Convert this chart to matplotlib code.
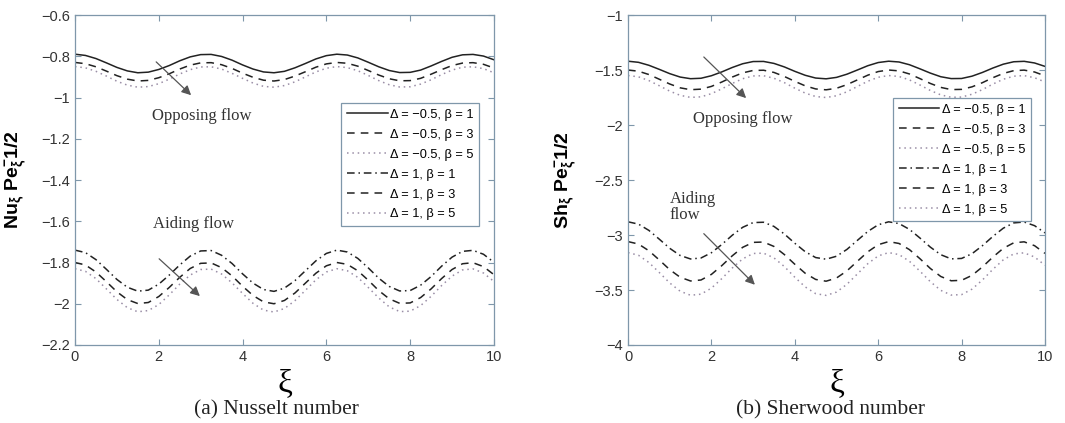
import numpy as np
import matplotlib
matplotlib.use("Agg")
import matplotlib.pyplot as plt

plt.rcParams["font.family"] = ["Liberation Sans", "DejaVu Sans"]
plt.rcParams["mathtext.fontset"] = "custom"
plt.rcParams["mathtext.rm"] = "Liberation Sans"
plt.rcParams["mathtext.it"] = "Liberation Sans:italic"
plt.rcParams["mathtext.bf"] = "Liberation Sans:bold"

# xi grid the values below were read at
xi = np.linspace(0, 10, 41)

# ---- (a) Nusselt number ----
nu_opp_b1 = [-0.790, -0.796, -0.811, -0.832, -0.854, -0.871, -0.880, -0.877, -0.864, -0.845, -0.822,
             -0.803, -0.792, -0.791, -0.801, -0.819, -0.842, -0.862, -0.876, -0.880, -0.873, -0.856,
             -0.835, -0.813, -0.797, -0.790, -0.794, -0.808, -0.829, -0.851, -0.869, -0.879, -0.878,
             -0.867, -0.847, -0.825, -0.805, -0.793, -0.791, -0.799, -0.817]
nu_opp_b3 = [-0.830, -0.836, -0.851, -0.872, -0.894, -0.911, -0.920, -0.917, -0.904, -0.885, -0.862,
             -0.843, -0.832, -0.831, -0.841, -0.859, -0.882, -0.902, -0.916, -0.920, -0.913, -0.896,
             -0.875, -0.853, -0.837, -0.830, -0.834, -0.848, -0.869, -0.891, -0.909, -0.919, -0.918,
             -0.907, -0.887, -0.865, -0.845, -0.833, -0.831, -0.839, -0.857]
nu_opp_b5 = [-0.850, -0.856, -0.873, -0.896, -0.921, -0.940, -0.950, -0.947, -0.933, -0.911, -0.886,
             -0.865, -0.852, -0.851, -0.862, -0.883, -0.907, -0.930, -0.946, -0.950, -0.942, -0.924,
             -0.900, -0.876, -0.858, -0.850, -0.855, -0.870, -0.893, -0.918, -0.938, -0.949, -0.948,
             -0.935, -0.914, -0.889, -0.867, -0.853, -0.851, -0.860, -0.880]
nu_aid_b1 = [-1.740, -1.752, -1.786, -1.833, -1.882, -1.920, -1.939, -1.934, -1.905, -1.861, -1.812,
             -1.769, -1.744, -1.742, -1.765, -1.805, -1.855, -1.900, -1.931, -1.940, -1.924, -1.888,
             -1.840, -1.792, -1.756, -1.740, -1.749, -1.780, -1.826, -1.876, -1.916, -1.938, -1.936,
             -1.910, -1.868, -1.818, -1.774, -1.746, -1.741, -1.760, -1.799]
nu_aid_b3 = [-1.800, -1.812, -1.846, -1.893, -1.942, -1.980, -1.999, -1.994, -1.965, -1.921, -1.872,
             -1.829, -1.804, -1.802, -1.825, -1.865, -1.915, -1.960, -1.991, -2.000, -1.984, -1.948,
             -1.900, -1.852, -1.816, -1.800, -1.809, -1.840, -1.886, -1.936, -1.976, -1.998, -1.996,
             -1.970, -1.928, -1.878, -1.834, -1.806, -1.801, -1.820, -1.859]
nu_aid_b5 = [-1.830, -1.843, -1.878, -1.928, -1.979, -2.019, -2.039, -2.033, -2.004, -1.957, -1.905,
             -1.861, -1.834, -1.832, -1.856, -1.899, -1.950, -1.998, -2.031, -2.040, -2.023, -1.985,
             -1.935, -1.884, -1.846, -1.830, -1.840, -1.872, -1.921, -1.972, -2.015, -2.038, -2.036,
             -2.009, -1.964, -1.912, -1.866, -1.836, -1.831, -1.851, -1.892]

# ---- (b) Sherwood number ----
sh_opp_b1 = [-1.420, -1.430, -1.457, -1.494, -1.533, -1.564, -1.579, -1.575, -1.552, -1.517, -1.477,
             -1.443, -1.423, -1.422, -1.440, -1.472, -1.512, -1.548, -1.573, -1.580, -1.567, -1.538,
             -1.500, -1.461, -1.432, -1.420, -1.427, -1.452, -1.489, -1.528, -1.561, -1.578, -1.577,
             -1.556, -1.522, -1.482, -1.447, -1.425, -1.421, -1.436, -1.467]
sh_opp_b3 = [-1.500, -1.511, -1.541, -1.584, -1.627, -1.662, -1.679, -1.674, -1.649, -1.609, -1.564,
             -1.526, -1.504, -1.502, -1.522, -1.559, -1.603, -1.644, -1.672, -1.680, -1.666, -1.633,
             -1.590, -1.547, -1.514, -1.500, -1.508, -1.536, -1.578, -1.622, -1.658, -1.678, -1.676,
             -1.653, -1.615, -1.570, -1.531, -1.506, -1.501, -1.518, -1.553]
sh_opp_b5 = [-1.550, -1.562, -1.596, -1.643, -1.692, -1.730, -1.749, -1.744, -1.715, -1.671, -1.622,
             -1.579, -1.554, -1.552, -1.575, -1.615, -1.665, -1.710, -1.741, -1.750, -1.734, -1.698,
             -1.650, -1.602, -1.566, -1.550, -1.559, -1.590, -1.636, -1.686, -1.726, -1.748, -1.746,
             -1.720, -1.678, -1.628, -1.584, -1.556, -1.551, -1.570, -1.609]
sh_aid_b1 = [-2.880, -2.901, -2.958, -3.038, -3.121, -3.186, -3.218, -3.209, -3.161, -3.086, -3.002,
             -2.930, -2.887, -2.884, -2.922, -2.991, -3.075, -3.152, -3.205, -3.220, -3.193, -3.131,
             -3.049, -2.968, -2.907, -2.880, -2.896, -2.949, -3.027, -3.110, -3.179, -3.217, -3.213,
             -3.170, -3.097, -3.013, -2.938, -2.890, -2.882, -2.915, -2.981]
sh_aid_b3 = [-3.060, -3.082, -3.143, -3.227, -3.315, -3.384, -3.418, -3.409, -3.358, -3.278, -3.189,
             -3.112, -3.067, -3.064, -3.104, -3.178, -3.266, -3.348, -3.404, -3.420, -3.391, -3.326,
             -3.239, -3.153, -3.088, -3.060, -3.077, -3.133, -3.215, -3.304, -3.377, -3.416, -3.412,
             -3.367, -3.290, -3.201, -3.121, -3.071, -3.062, -3.097, -3.167]
sh_aid_b5 = [-3.160, -3.184, -3.250, -3.341, -3.436, -3.511, -3.548, -3.538, -3.483, -3.396, -3.300,
             -3.217, -3.168, -3.165, -3.208, -3.287, -3.384, -3.472, -3.533, -3.549, -3.519, -3.448,
             -3.354, -3.261, -3.190, -3.160, -3.178, -3.239, -3.328, -3.424, -3.503, -3.546, -3.542,
             -3.492, -3.409, -3.312, -3.226, -3.172, -3.162, -3.200, -3.275]

labels = ["Δ = −0.5, β = 1", "Δ = −0.5, β = 3", "Δ = −0.5, β = 5",
          "Δ = 1, β = 1", "Δ = 1, β = 3", "Δ = 1, β = 5"]

dark = "#222222"
dotc = "#9a8ea6"
frame = "#7f97aa"
styles = [
    dict(color=dark, linestyle="-"),
    dict(color=dark, linestyle=(0, (5, 4))),
    dict(color=dotc, linestyle=(0, (1, 2.5))),
    dict(color=dark, linestyle=(0, (5, 2.5, 1, 2.5))),
    dict(color=dark, linestyle=(0, (5, 4))),
    dict(color=dotc, linestyle=(0, (1, 2.5))),
]

fig = plt.figure(figsize=(10.65, 4.23), dpi=100)
ax1 = fig.add_axes([0.0704, 0.1844, 0.3934, 0.7801])
ax2 = fig.add_axes([0.5897, 0.1844, 0.3915, 0.7801])


def draw(ax, series, ylim, yticks, ytl, ylab, arrows, texts, legpos, caption, capx):
    for ys, st, lab in zip(series, styles, labels):
        ax.plot(xi, ys, linewidth=1.1, label=lab, **st)
    ax.set_xlim(0, 10)
    ax.set_ylim(*ylim)
    ax.set_xticks([0, 2, 4, 6, 8, 10])
    ax.set_yticks(yticks)
    ax.set_yticklabels(ytl)
    ax.tick_params(direction="in", top=True, right=True, labelsize=10.5,
                   colors=frame, labelcolor="#333333", length=4, width=0.8)
    for s in ax.spines.values():
        s.set_color(frame)
        s.set_linewidth(0.9)
    ax.set_ylabel(ylab, fontsize=14)
    ax.yaxis.set_label_coords(-0.115, 0.5)
    ax.set_xlabel("ξ", fontsize=24, family="Liberation Serif")
    ax.xaxis.set_label_coords(0.5, -0.07)
    for (x0, y0, x1, y1) in arrows:
        ax.annotate("", xy=(x1, y1), xytext=(x0, y0),
                    arrowprops=dict(arrowstyle="-|>", color="#555555", lw=0.9,
                                    mutation_scale=14))
    for (tx, ty, tt) in texts:
        ax.text(tx, ty, tt, fontsize=12, family="Liberation Serif", color="#333333",
                va="center", ha="left", linespacing=1.0)
    leg = ax.legend(loc="upper left", bbox_to_anchor=legpos, fontsize=9.2,
                    handlelength=3.2, handletextpad=0.2, labelspacing=0.62,
                    borderpad=0.45, borderaxespad=0, fancybox=False, framealpha=1)
    leg.get_frame().set_edgecolor(frame)
    leg.get_frame().set_linewidth(0.9)
    fig.text(capx, 0.03, caption, fontsize=15.5, family="Liberation Serif",
             ha="center", va="center", color="#222222")


draw(ax1,
     [nu_opp_b1, nu_opp_b3, nu_opp_b5, nu_aid_b1, nu_aid_b3, nu_aid_b5],
     (-2.2, -0.6),
     [-2.2, -2.0, -1.8, -1.6, -1.4, -1.2, -1.0, -0.8, -0.6],
     ["−2.2", "−2", "−1.8", "−1.6", "−1.4", "−1.2", "−1", "−0.8", "−0.6"],
     r"$\mathbf{Nu_{\xi}\ Pe_{\xi}^{-}1/2}$",
     [(1.89, -0.818, 2.82, -0.998), (1.96, -1.773, 3.03, -1.972)],
     [(1.84, -1.09, "Opposing flow"), (1.86, -1.613, "Aiding flow")],
     (0.635, 0.733), "(a) Nusselt number", 0.26)

draw(ax2,
     [sh_opp_b1, sh_opp_b3, sh_opp_b5, sh_aid_b1, sh_aid_b3, sh_aid_b5],
     (-4, -1),
     [-4, -3.5, -3, -2.5, -2, -1.5, -1],
     ["−4", "−3.5", "−3", "−2.5", "−2", "−1.5", "−1"],
     r"$\mathbf{Sh_{\xi}\ Pe_{\xi}^{-}1/2}$",
     [(1.77, -1.364, 2.88, -1.773), (1.77, -2.97, 3.09, -3.47)],
     [(1.56, -1.945, "Opposing flow"), (1.0, -2.745, "Aiding\nflow")],
     (0.635, 0.748), "(b) Sherwood number", 0.78)

ax2.yaxis.set_label_coords(-0.122, 0.5)

fig.savefig("out.png", dpi=100, facecolor="white")
